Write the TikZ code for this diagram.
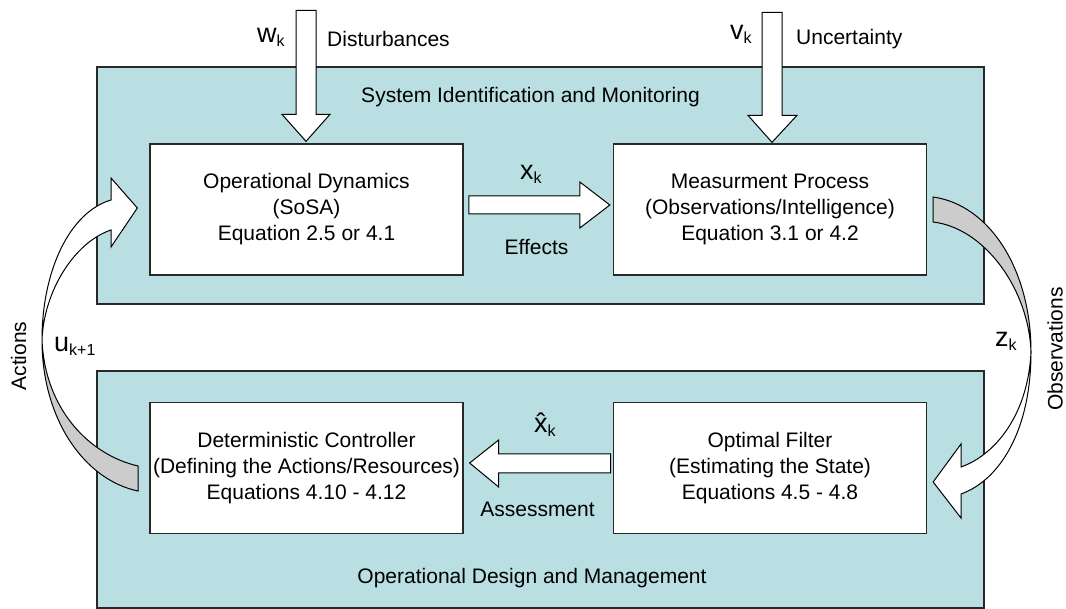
\documentclass[tikz,border=0pt]{standalone}
\usepackage{fontspec}
\setmainfont{Liberation Sans}
\usetikzlibrary{calc}
\definecolor{panelfill}{RGB}{185,223,227}
\definecolor{grayband}{RGB}{204,204,204}
\definecolor{edgecol}{RGB}{40,40,40}
\newcommand{\varlab}[2]{{\fontsize{27}{27}\selectfont #1}\raisebox{-4pt}{\fontsize{16}{16}\selectfont #2}}
\tikzset{
 panel/.style={draw=edgecol, line width=1.3pt, fill=panelfill, rectangle, inner sep=0pt},
 procbox/.style={draw=edgecol, line width=1.3pt, fill=white, minimum width=313pt, minimum height=131pt, align=center, font=\fontsize{21}{26}\selectfont, inner sep=0pt},
 blockarrow/.style={draw=black, line width=1pt, fill=white, line join=miter},
 grayface/.style={draw=black, line width=1pt, fill=grayband},
 lbl/.style={font=\fontsize{21}{21}\selectfont, inner sep=0pt},
 varl/.style={inner sep=0pt, anchor=base west},
}
\begin{document}
\begin{tikzpicture}[x=1pt,y=-1pt]
\useasboundingbox (0,0) rectangle (1066,609);
% panels
\node[panel, minimum width=887pt, minimum height=237pt] (toppanel) at (540.5,185.5) {};
\node[panel, minimum width=887pt, minimum height=237pt] (botpanel) at (540.5,489.5) {};
\node[lbl, anchor=base] (toplab) at (530.5,103) {System Identification and Monitoring};
\node[lbl, anchor=base] (botlab) at (532,583) {Operational Design and Management};
% process boxes
\node[procbox] (dyn) at (306.5,209.5) {Operational Dynamics\\(SoSA)\\Equation 2.5 or 4.1};
\node[procbox] (meas) at (770,209.5) {Measurment Process\\(Observations/Intelligence)\\Equation 3.1 or 4.2};
\node[procbox] (ctrl) at (306.5,468) {Deterministic Controller\\(Defining the Actions/Resources)\\Equations 4.10 - 4.12};
\node[procbox] (filt) at (770,468) {Optimal Filter\\(Estimating the State)\\Equations 4.5 - 4.8};
% arrow tips
\coordinate (wtip) at ($(dyn.north)+(-0.5,-2)$);
\coordinate (vtip) at ($(meas.north)+(2,-1)$);
\coordinate (xtip) at ($(meas.west)+(-3,-4.5)$);
\coordinate (atip) at ($(ctrl.east)+(6,-5)$);
\coordinate (lhead) at ($(dyn.west)+(-12,-1.5)$);
\coordinate (rhead) at ($(filt.east)+(6,14)$);
% disturbance arrow
\draw[blockarrow] (wtip) -- ++(24,-27) -- ++(-14,0) -- ++(0,-104) -- ++(-20,0) -- ++(0,104) -- ++(-14,0) -- cycle;
% uncertainty arrow
\draw[blockarrow] (vtip) -- ++(25,-27) -- ++(-15,0) -- ++(0,-103) -- ++(-20,0) -- ++(0,103) -- ++(-14,0) -- cycle;
% effects arrow
\draw[blockarrow] (xtip) -- ++(-30,-23) -- ++(0,14) -- ++(-111,0) -- ++(0,18) -- ++(111,0) -- ++(0,14) -- cycle;
% assessment arrow
\draw[blockarrow] (atip) -- ++(29,-23) -- ++(0,14) -- ++(112,0) -- ++(0,19) -- ++(-112,0) -- ++(0,14) -- cycle;
% actions curved arrow
\draw[grayface] (42,340) .. controls (42,420) and (85,480) .. (138,491) -- (138,466) .. controls (90,455) and (45,410) .. (42,340) -- cycle;
\draw[blockarrow] (lhead) -- (111,178) -- (111,200) .. controls (70,212) and (42,270) .. (42,340) .. controls (44,290) and (75,242) .. (111,230) -- (111,247) -- cycle;
% observations curved arrow
\draw[grayface] (933,197) .. controls (990,205) and (1031,270) .. (1031,352) .. controls (1029,290) and (985,228) .. (933,222) -- cycle;
\draw[blockarrow] (rhead) -- (961,444) -- (961,467) .. controls (995,455) and (1028,415) .. (1031,352) .. controls (1031,430) and (1000,480) .. (961,494) -- (961,518) -- cycle;
% labels
\node[varl] (wk) at (257,43) {\varlab{w}{k}};
\node[lbl, anchor=base west] (dist) at (327,47) {Disturbances};
\node[varl] (vk) at (730,40) {\varlab{v}{k}};
\node[lbl, anchor=base west] (unc) at (796,45) {Uncertainty};
\node[varl] (xk) at (520,180) {\varlab{x}{k}};
\node[lbl, anchor=base] (eff) at (536.5,255) {Effects};
\node[varl] (xhk) at (534,433) {\varlab{\^{x}}{k}};
\node[lbl, anchor=base] (ass) at (537.5,516) {Assessment};
\node[varl] (uk) at (54,352) {\varlab{u}{k+1}};
\node[varl] (zk) at (995,347) {\varlab{z}{k}};
\node[lbl, rotate=90] (act) at (18.5,356) {Actions};
\node[lbl, rotate=90] (obs) at (1055,349) {Observations};
\end{tikzpicture}
\end{document}
